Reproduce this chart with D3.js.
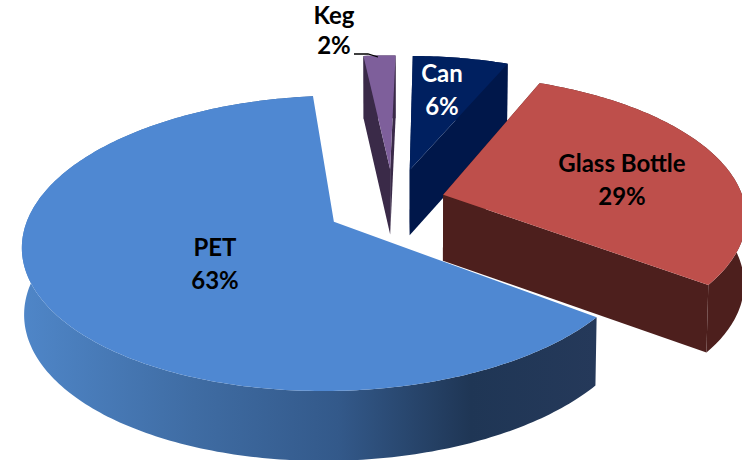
<!DOCTYPE html>
<html><head><meta charset="utf-8">
<style>html,body{margin:0;padding:0;background:#fff}svg{display:block}text{font-family:Lato,"Open Sans",sans-serif;font-weight:700;font-size:24px;text-anchor:middle}</style>
<script src="https://cdn.jsdelivr.net/npm/d3@7"></script></head><body>
<svg id="c" width="742" height="460"></svg>
<script>
const categories = ["Can","Glass Bottle","PET","Keg"];
const shares = [6,29,63,2];
const explode = [0.265,0.165,0.24,0.265];
const nudgeX = [-0.014,-0.008,0,-0.015];
const nudgeY = [0,-0.03,0,0];
const topColors = ["#002060","#BE4F4B","#4F88D2","#7E5F9B"];
const wallColors = ["#00174A","#4D1F1D","url(#petWall)","#3A2A48"];
const labelColors = ["#fff","#000","#000","#000"];
const labelPos = [[442,82],[622,172],[215,256],[334,24]];
const gradStops = [[0,"#4F86C8"],[0.3,"#3F6CA3"],[0.55,"#33598A"],[0.78,"#1F3655"],[1,"#25395A"]];

const W=742,H=460;
const cx=398,cy=205,rx=302,ry=139.7,persp=0.143,depth=66,taper=0.006;
const sx=d3.scaleLinear().domain([0,1]).range([cx,cx+rx]);
const sy=d3.scaleLinear().domain([0,1]).range([cy,cy+ry]);
const rot=Math.PI/180*1;
const arcs=d3.pie().sort(null).value(d=>d).startAngle(rot).endAngle(rot+2*Math.PI)(shares);
const svg=d3.select("#c");
const grad=svg.append("defs").append("linearGradient").attr("id","petWall")
 .attr("gradientUnits","userSpaceOnUse").attr("x1",22).attr("x2",597).attr("y1",0).attr("y2",0);
grad.selectAll("stop").data(gradStops).join("stop").attr("offset",d=>d[0]).attr("stop-color",d=>d[1]);

function proj(X,Y,z){ // z: 0 top face, 1 bottom face
  const p=1/(1-persp*Y), t=1-taper*z;
  return [cx+(sx(X)-cx)*p*t, sy(Y*p*t)+depth*z*(0.6+0.4*p)];
}
const line=d3.line();
function slice(a,i){
  const mid=(a.startAngle+a.endAngle)/2;
  const ox=explode[i]*Math.sin(mid)+nudgeX[i], oy=-explode[i]*Math.cos(mid)+nudgeY[i];
  const n=Math.max(6,Math.round((a.endAngle-a.startAngle)*60));
  const rim=d3.range(n+1).map(k=>{
    const t=a.startAngle+(a.endAngle-a.startAngle)*k/n;
    return [ox+Math.sin(t),oy-Math.cos(t)];
  });
  return {apex:[ox,oy],rim};
}
const order=[3,0,1,2];
order.forEach(i=>{
  const s=slice(arcs[i],i), g=svg.append("g");
  const color=wallColors[i];
  const top=s.rim.map(q=>proj(q[0],q[1],0)), bot=s.rim.map(q=>proj(q[0],q[1],1));
  g.append("path").attr("d",line(top.concat(bot.slice().reverse()))+"Z").attr("fill",color);
  [s.rim[0],s.rim[s.rim.length-1]].forEach(q=>{
    if(i===2)return;
    const pts=[proj(s.apex[0],s.apex[1],0),proj(q[0],q[1],0),proj(q[0],q[1],1),proj(s.apex[0],s.apex[1],1)];
    g.append("path").attr("d",line(pts)+"Z").attr("fill",color);
  });
  g.append("path").attr("d",line([proj(s.apex[0],s.apex[1],0)].concat(top))+"Z").attr("fill",topColors[i]);
});
svg.append("path").attr("d",line([[354,54],[368,54],[378,57]])).attr("fill","none").attr("stroke","#000").attr("stroke-width",1.3);
categories.forEach((c,i)=>{
  const t=svg.append("text").attr("x",labelPos[i][0]).attr("y",labelPos[i][1]).attr("fill",labelColors[i]);
  t.append("tspan").attr("x",labelPos[i][0]).text(c);
  t.append("tspan").attr("x",labelPos[i][0]).attr("dy",i===3?30:33).text(shares[i]+"%");
});
</script></body></html>
